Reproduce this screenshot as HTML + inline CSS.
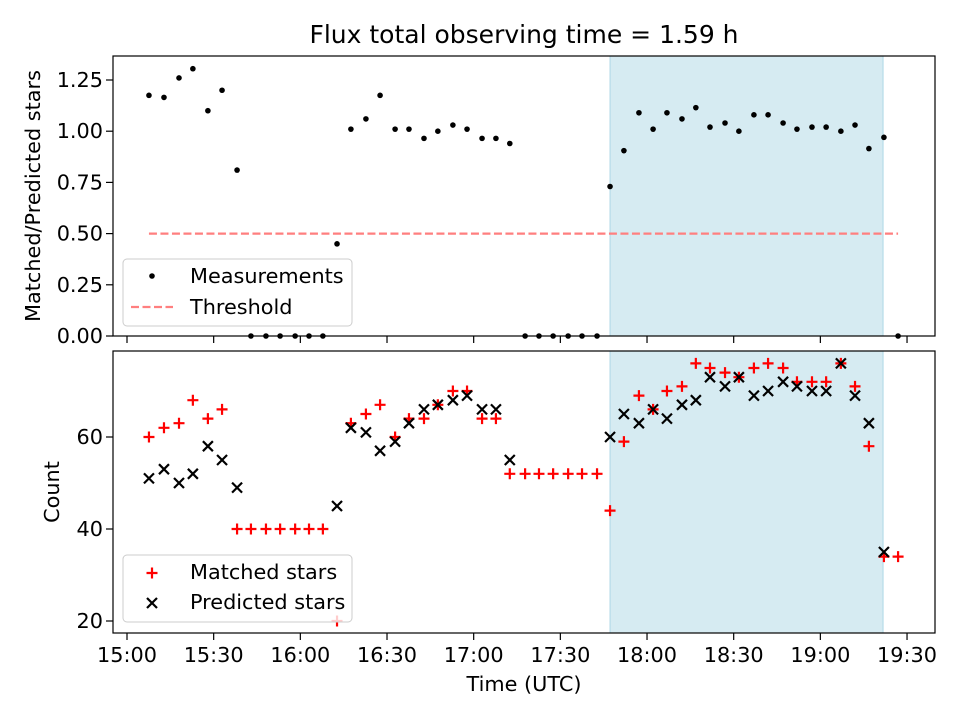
<!DOCTYPE html>
<html><head><meta charset="utf-8"><style>
body{margin:0;background:#fff;}
svg text{font-family:"DejaVu Sans","Liberation Sans",sans-serif;fill:#000;}
</style></head><body>
<svg id="chart" width="960" height="720" xmlns="http://www.w3.org/2000/svg"></svg>
<script>
const times=[7.6,12.8,18.0,22.8,28.0,32.9,38.1,42.9,48.1,53.0,58.2,63.0,67.8,72.7,77.5,82.7,87.6,92.8,97.6,102.8,107.6,112.8,117.7,122.9,127.7,132.5,137.8,142.6,147.5,152.7,157.5,162.7,167.2,172.0,177.2,182.1,186.9,192.1,196.9,201.8,207.0,211.8,217.0,221.9,227.1,231.9,237.1,242.0,247.1,252.0,256.8,262.0,266.9];
const ratio=[1.175,1.165,1.26,1.305,1.10,1.20,0.81,0,0,0,0,0,0,0.45,1.01,1.06,1.175,1.01,1.01,0.965,1.0,1.03,1.01,0.965,0.965,0.94,0,0,0,0,0,0,0.73,0.905,1.09,1.01,1.09,1.06,1.115,1.02,1.04,1.0,1.08,1.08,1.04,1.01,1.02,1.02,1.0,1.03,0.915,0.97,0];
const matched=[60,62,63,68,64,66,40,40,40,40,40,40,40,20,63,65,67,60,64,64,67,70,70,64,64,52,52,52,52,52,52,52,44,59,69,66,70,71,76,75,74,73,75,76,75,72,72,72,76,71,58,34,34];
const predicted=[51,53,50,52,58,55,49,null,null,null,null,null,null,45,62,61,57,59,63,66,67,68,69,66,66,55,null,null,null,null,null,null,60,65,63,66,64,67,68,73,71,73,69,70,72,71,70,70,76,69,63,35,null];
const threshold=0.5;
const shadeRange=[167.2,261.7];
const xTicks=[0,30,60,90,120,150,180,210,240,270];
const xTickLabels=["15:00","15:30","16:00","16:30","17:00","17:30","18:00","18:30","19:00","19:30"];
const yTopTicks=[0,0.25,0.5,0.75,1.0,1.25];
const yTopLabels=["0.00","0.25","0.50","0.75","1.00","1.25"];
const yBotTicks=[20,40,60];

const NS="http://www.w3.org/2000/svg";
const svg=document.getElementById('chart');
const L=113,R=935,FS='20.8px';
const X=m=>127+m*2.889;
const YT=v=>336-v*204.8;
const YB=v=>621-(v-20)*4.6;
function el(tag,attrs,parent){const e=document.createElementNS(NS,tag);for(const k in attrs)e.setAttribute(k,attrs[k]);(parent||svg).appendChild(e);return e;}
function txt(s,attrs){const t=el('text',attrs);t.style.fontSize=FS;t.textContent=s;return t;}

function panel(top,bot,name){
  const g=el('g',{});
  
  
  const sh=el('rect',{x:X(shadeRange[0]),y:top,width:X(shadeRange[1])-X(shadeRange[0]),height:bot-top,fill:'#add8e6','fill-opacity':0.5,stroke:'#add8e6'},g);
  
  
  return g;
}
function frame(top,bot,name){
  const f=el('rect',{x:L,y:top,width:R-L,height:bot-top,fill:'none',stroke:'#000','stroke-width':1.2});
  
  
  xTicks.forEach(m=>el('line',{x1:X(m),x2:X(m),y1:bot,y2:bot+7,stroke:'#000','stroke-width':1.2}));
}
const gt=panel(56,336,'ratio-panel');
const th=el('line',{x1:X(times[0]),x2:X(times[times.length-1]),y1:YT(threshold),y2:YT(threshold),stroke:'#ff7f7f','stroke-width':2.2,'stroke-dasharray':'8,3.5'},gt);


times.forEach((t,i)=>{
  const c=el('circle',{cx:X(t),cy:YT(ratio[i]),r:2.8,fill:'#000'},gt);
  
  
});
frame(56,336,'ratio-axes');
yTopTicks.forEach((v,i)=>{el('line',{x1:L-7,x2:L,y1:YT(v),y2:YT(v),stroke:'#000','stroke-width':1.2});
  const t=txt(yTopLabels[i],{x:L-10,y:YT(v)+7,'text-anchor':'end'});
  });
const gb=panel(351,633,'count-panel');
times.forEach((t,i)=>{
  const x=X(t),y=YB(matched[i]);
  const p=el('path',{d:`M${x-5.5},${y}H${x+5.5}M${x},${y-5.5}V${y+5.5}`,stroke:'#f00','stroke-width':2.2},gb);
  
  
});
times.forEach((t,i)=>{
  if(predicted[i]===null)return;
  const x=X(t),y=YB(predicted[i]);
  const p=el('path',{d:`M${x-5},${y-5}L${x+5},${y+5}M${x-5},${y+5}L${x+5},${y-5}`,stroke:'#000','stroke-width':2.2},gb);
  
  
});
frame(351,633,'count-axes');
yBotTicks.forEach(v=>{el('line',{x1:L-7,x2:L,y1:YB(v),y2:YB(v),stroke:'#000','stroke-width':1.2});
  const t=txt(String(v),{x:L-10,y:YB(v)+7,'text-anchor':'end'});
  });
xTicks.forEach((m,i)=>{const t=txt(xTickLabels[i],{x:X(m),y:662,'text-anchor':'middle'});
  });
</script>
<svg style="position:absolute;left:0;top:0" width="960" height="720" xmlns="http://www.w3.org/2000/svg">
<text x="524" y="43" text-anchor="middle" style="font-size:25px">Flux total observing time = 1.59 h</text>
<text x="524" y="691" text-anchor="middle" style="font-size:20.8px">Time (UTC)</text>
<text transform="translate(40,196) rotate(-90)" text-anchor="middle" style="font-size:20.8px">Matched/Predicted stars</text>
<text transform="translate(59,492) rotate(-90)" text-anchor="middle" style="font-size:20.8px">Count</text>
<g>
<rect x="123" y="259" width="229" height="67" rx="4" fill="#fff" fill-opacity="0.8" stroke="#ccc"/>
<circle cx="152" cy="276" r="2.8" fill="#000"/>
<text x="190" y="283" style="font-size:20.8px">Measurements</text>
<line x1="131" x2="173" y1="307" y2="307" stroke="#ff7f7f" stroke-width="2.2" stroke-dasharray="8,3.5"/>
<text x="190" y="314" style="font-size:20.8px">Threshold</text>
</g>
<g>
<rect x="123" y="555" width="229" height="67" rx="4" fill="#fff" fill-opacity="0.8" stroke="#ccc"/>
<path d="M146.5,573H157.5M152,567.5V578.5" stroke="#f00" stroke-width="2.2"/>
<text x="190" y="579" style="font-size:20.8px">Matched stars</text>
<path d="M147,598L157,608M147,608L157,598" stroke="#000" stroke-width="2.2"/>
<text x="190" y="609" style="font-size:20.8px">Predicted stars</text>
</g>
</svg>
</body></html>
